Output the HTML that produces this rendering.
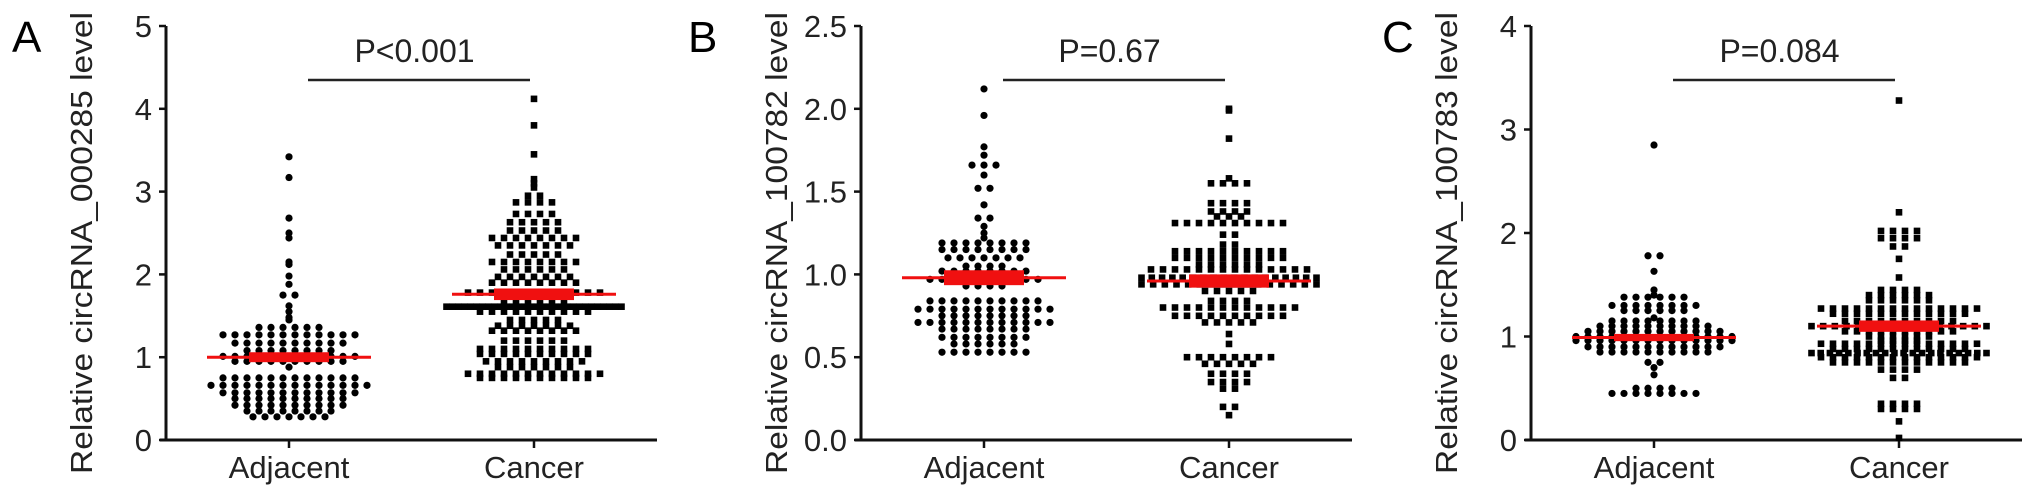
<!DOCTYPE html>
<html><head><meta charset="utf-8"><style>
html,body{margin:0;padding:0;background:#fff;}
svg{display:block;font-family:"Liberation Sans",Arial,sans-serif;}
</style></head><body>
<svg id="fig" width="2032" height="497" viewBox="0 0 2032 497"></svg>
<script>
const categories = ["Adjacent", "Cancer"];
const panelLetters = ["A", "B", "C"];
const yTitles = ["Relative circRNA_000285 level", "Relative circRNA_100782 level", "Relative circRNA_100783 level"];
const pLabels = ["P<0.001", "P=0.67", "P=0.084"];
const yTicksA = ["0","1","2","3","4","5"];
const yTicksB = ["0.0","0.5","1.0","1.5","2.0","2.5"];
const yTicksC = ["0","1","2","3","4"];
const yMax = [5, 2.5, 4];
const meansA = [1.0, 1.76]; const semA = [0.06, 0.07];
const meansB = [0.98, 0.96]; const semB = [0.045, 0.04];
const meansC = [0.99, 1.1]; const semC = [0.035, 0.055];

const adjA = [3.42,3.17,2.68,2.5,2.44,2.15,2.12,1.98,1.88,1.75,1.75,1.62,1.55,1.48,1.45,
1.36,1.36,1.36,1.36,1.36,1.36,
1.27,1.27,1.27,1.27,1.27,1.27,1.27,1.27,1.27,1.27,1.27,1.27,
1.17,1.17,1.17,1.17,1.17,1.17,1.17,1.17,1.17,1.17,
1.08,1.08,1.08,1.08,1.08,1.08,1.08,1.08,
1.01,1.01,1.01,1.01,1.01,1.01,1.01,1.01,1.01,1.01,1.01,1.01,
0.95,0.95,0.95,0.95,0.95,0.95,0.95,0.95,0.95,0.95,0.88,
0.75,0.75,0.75,0.75,0.75,0.75,0.75,0.75,0.75,0.75,0.75,0.75,
0.66,0.66,0.66,0.66,0.66,0.66,0.66,0.66,0.66,0.66,0.66,0.66,0.66,0.66,
0.57,0.57,0.57,0.57,0.57,0.57,0.57,0.57,0.57,0.57,0.57,0.57,
0.5,0.5,0.5,0.5,0.5,0.5,0.5,0.5,0.5,0.5,
0.42,0.42,0.42,0.42,0.42,0.42,0.42,0.42,0.42,0.42,
0.35,0.35,0.35,0.35,0.35,0.35,0.35,0.35,
0.28,0.28,0.28,0.28,0.28,0.28,0.28];
const canA = [4.12,3.8,3.45,3.15,3.1,3.05,2.95,2.95,2.87,2.87,2.87,2.87,2.73,2.73,2.73,2.73,
2.63,2.63,2.63,2.63,2.63,2.53,2.53,2.53,2.53,2.53,
2.44,2.44,2.44,2.44,2.44,2.44,2.44,2.44,2.35,2.35,2.35,2.35,2.35,2.35,2.35,
2.24,2.24,2.24,2.24,2.24,2.15,2.15,2.15,2.15,2.15,2.15,2.15,2.15,2.06,2.06,2.06,2.06,2.06,2.06,
1.97,1.97,1.97,1.97,1.97,1.97,1.97,1.9,1.9,1.9,1.9,1.9,1.9,1.9,1.9,
1.78,1.78,1.78,1.78,1.78,1.78,1.78,1.78,1.78,1.78,1.78,1.78,1.68,1.68,1.68,1.68,1.68,1.68,
1.61,1.61,1.61,1.61,1.61,1.61,1.61,1.61,1.61,1.61,1.61,1.61,1.61,1.61,1.61,1.61,1.61,1.61,1.61,1.61,1.61,1.61,1.61,1.61,1.61,1.61,1.61,1.61,1.61,1.61,
1.55,1.55,1.55,1.55,1.55,1.55,1.55,1.55,1.55,1.55,
1.45,1.45,1.45,1.45,1.45,1.38,1.38,1.38,1.38,1.38,1.38,1.38,1.32,1.32,1.32,1.32,1.32,1.32,1.32,1.32,
1.2,1.2,1.2,1.2,1.2,1.2,1.1,1.1,1.1,1.1,1.1,1.1,1.1,1.1,1.1,1.1,1.04,1.04,1.04,1.04,1.04,1.04,1.04,1.04,1.04,1.04,
0.95,0.95,0.95,0.95,0.95,0.95,0.95,0.95,0.95,0.88,0.88,0.88,0.88,0.88,0.88,0.88,
0.8,0.8,0.8,0.8,0.8,0.8,0.8,0.8,0.8,0.8,0.8,0.8,0.75,0.75,0.75,0.75,0.75,0.75,0.75,0.75,0.75,0.75];
const adjB = [2.12,1.96,1.77,1.72,1.66,1.66,1.66,1.6,1.52,1.52,1.42,1.34,1.34,1.29,1.25,1.22,
1.19,1.19,1.19,1.19,1.19,1.19,1.19,1.19,1.15,1.15,1.15,1.15,1.15,1.15,1.15,1.15,
1.1,1.1,1.1,1.1,1.1,1.1,1.1,1.05,1.05,1.05,1.05,1.02,1.02,1.02,1.02,1.02,1.02,1.02,1.02,
0.97,0.97,0.97,0.97,0.97,0.97,0.97,0.97,0.97,0.97,0.93,0.93,0.93,0.93,
0.84,0.84,0.84,0.84,0.84,0.84,0.84,0.84,0.84,0.84,0.79,0.79,0.79,0.79,0.79,0.79,0.79,0.79,0.79,0.79,0.79,0.79,
0.75,0.75,0.75,0.75,0.75,0.75,0.75,0.75,0.71,0.71,0.71,0.71,0.71,0.71,0.71,0.71,0.71,0.71,0.71,0.71,
0.67,0.67,0.67,0.67,0.67,0.67,0.67,0.67,0.62,0.62,0.62,0.62,0.62,0.62,0.62,0.62,
0.58,0.58,0.58,0.58,0.58,0.58,0.53,0.53,0.53,0.53,0.53,0.53,0.53,0.53];
const canB = [2.0,1.99,1.82,1.58,1.55,1.55,1.55,1.55,1.43,1.43,1.43,1.43,1.38,1.38,1.38,1.38,1.35,1.35,1.35,
1.31,1.31,1.31,1.31,1.31,1.31,1.31,1.31,1.31,1.31,1.24,1.24,1.18,1.18,
1.14,1.14,1.14,1.14,1.14,1.14,1.14,1.14,1.14,1.14,1.1,1.1,1.1,1.1,1.1,1.1,1.1,1.1,1.1,1.1,
1.06,1.06,1.06,1.06,1.06,1.06,1.03,1.03,1.03,1.03,1.03,1.03,1.03,1.03,1.03,1.03,1.03,1.03,1.03,1.03,
0.98,0.98,0.98,0.98,0.98,0.98,0.98,0.98,0.98,0.98,0.98,0.98,0.98,0.98,0.98,0.98,0.98,0.98,
0.94,0.94,0.94,0.94,0.94,0.94,0.94,0.94,0.94,0.94,0.94,0.94,0.94,0.94,0.94,0.94,
0.9,0.9,0.9,0.9,0.9,0.84,0.84,0.84,0.84,
0.8,0.8,0.8,0.8,0.8,0.8,0.8,0.8,0.8,0.8,0.8,0.8,0.75,0.75,0.75,0.75,0.75,0.75,0.75,0.75,0.75,0.75,
0.71,0.71,0.71,0.71,0.71,0.64,0.58,0.5,0.5,0.5,0.5,0.5,0.5,0.5,0.5,0.46,0.46,0.46,0.46,0.46,
0.4,0.4,0.4,0.4,0.35,0.35,0.35,0.35,0.31,0.31,0.2,0.2,0.15];
const adjC = [2.85,1.78,1.78,1.63,1.45,1.4,1.38,1.38,1.38,1.38,1.38,1.38,
1.3,1.3,1.3,1.3,1.3,1.3,1.3,1.3,1.25,1.25,1.25,1.25,1.25,1.25,1.18,
1.15,1.15,1.15,1.15,1.15,1.15,1.15,1.15,1.1,1.1,1.1,1.1,1.1,1.1,1.1,1.1,1.1,1.1,
1.05,1.05,1.05,1.05,1.05,1.05,1.05,1.05,1.05,1.05,1.05,1.05,
1.0,1.0,1.0,1.0,1.0,1.0,1.0,1.0,1.0,1.0,1.0,1.0,1.0,1.0,
0.96,0.96,0.96,0.96,0.96,0.96,0.96,0.96,0.96,0.96,0.96,0.96,0.96,0.96,
0.9,0.9,0.9,0.9,0.9,0.9,0.9,0.9,0.9,0.9,0.9,0.9,0.85,0.85,0.85,0.85,0.85,0.85,0.85,0.85,0.85,0.85,
0.75,0.75,0.7,0.63,0.5,0.5,0.5,0.5,0.45,0.45,0.45,0.45,0.45,0.45,0.45,0.45];
const canC = [3.28,2.2,2.02,2.02,2.02,2.02,1.95,1.95,1.95,1.95,1.87,1.87,1.75,1.57,
1.45,1.45,1.45,1.45,1.4,1.4,1.4,1.4,1.4,1.4,1.35,1.35,1.35,1.35,1.35,1.35,
1.27,1.27,1.27,1.27,1.27,1.27,1.27,1.27,1.27,1.27,1.27,1.27,1.27,1.27,
1.22,1.22,1.22,1.22,1.22,1.22,1.22,1.22,1.22,1.22,1.22,1.22,
1.15,1.15,1.15,1.15,1.15,1.15,1.15,1.15,1.15,1.15,
1.1,1.1,1.1,1.1,1.1,1.1,1.1,1.1,1.1,1.1,1.1,1.1,1.1,1.1,1.1,1.1,
1.05,1.05,1.05,1.05,1.05,1.05,1.05,1.05,1.05,1.05,1.0,1.0,1.0,1.0,1.0,1.0,0.96,0.96,0.96,0.96,
0.93,0.93,0.93,0.93,0.93,0.93,0.93,0.93,0.93,0.93,0.93,0.93,0.93,0.93,
0.88,0.88,0.88,0.88,0.88,0.88,0.88,0.88,0.88,0.88,0.88,0.88,
0.84,0.84,0.84,0.84,0.84,0.84,0.84,0.84,0.84,0.84,0.84,0.84,0.84,0.84,0.84,0.84,0.84,0.84,0.84,0.84,
0.8,0.8,0.8,0.8,0.8,0.8,0.8,0.8,0.8,0.8,0.8,0.8,0.8,0.8,
0.75,0.75,0.75,0.75,0.75,0.75,0.75,0.75,0.75,0.75,0.75,0.75,
0.68,0.68,0.68,0.68,0.6,0.6,0.35,0.35,0.35,0.35,0.3,0.3,0.3,0.3,0.18,0.02];

const NS = "http://www.w3.org/2000/svg";
const svg = document.getElementById("fig");
function mk(tag, attrs, parent, text){
  const e = document.createElementNS(NS, tag);
  for (const k in attrs) e.setAttribute(k, attrs[k]);
  if (text !== undefined) e.textContent = text;
  (parent || svg).appendChild(e);
  return e;
}
const panels = [
  {x0:166, ticks:yTicksA, groups:[adjA, canA], means:meansA, sems:semA, letterX:12},
  {x0:861, ticks:yTicksB, groups:[adjB, canB], means:meansB, sems:semB, letterX:688},
  {x0:1531, ticks:yTicksC, groups:[adjC, canC], means:meansC, sems:semC, letterX:1382}
];
const yTop = 26, yBot = 440;
panels.forEach((p, pi) => {
  const g = mk("g", {});
  
  
  const yScale = v => yBot - (v / yMax[pi]) * (yBot - yTop);
  const xCat = i => p.x0 + 123 + i * 245;
  const letter = mk("text", {x:p.letterX, y:52, "font-size":44}, g, panelLetters[pi]);
  
  
  const yt = mk("text", {transform:`translate(${p.x0-74},${(yBot+yTop)/2+10}) rotate(-90)`, "text-anchor":"middle", "font-size":31, fill:"#222", textLength:462, lengthAdjust:"spacingAndGlyphs"}, g, yTitles[pi]);
  
  
  const yAxis = mk("line", {x1:p.x0, y1:yTop, x2:p.x0, y2:yBot+1, stroke:"#111", "stroke-width":3}, g);
  
  
  const xAxis = mk("line", {x1:p.x0-6, y1:yBot, x2:p.x0+491, y2:yBot, stroke:"#111", "stroke-width":3}, g);
  
  
  const n = p.ticks.length;
  p.ticks.forEach((t, ti) => {
    const v = ti * yMax[pi] / (n - 1);
    const y = yScale(v);
    mk("line", {x1:p.x0-7, y1:y, x2:p.x0, y2:y, stroke:"#111", "stroke-width":2.5}, g);
    const tl = mk("text", {x:p.x0-14, y:y+11, "text-anchor":"end", "font-size":31, fill:"#222"}, g, t);
    
    
  });
  categories.forEach((c, ci) => {
    const x = xCat(ci);
    mk("line", {x1:x, y1:yBot, x2:x, y2:yBot+8, stroke:"#111", "stroke-width":2.5}, g);
    const xl = mk("text", {x:x, y:478, "text-anchor":"middle", "font-size":31, fill:"#222"}, g, c);
    
    
  });
  const sb = mk("line", {x1:xCat(0)+19, y1:80, x2:xCat(1)-4, y2:80, stroke:"#222", "stroke-width":2.5}, g);
  
  
  const pt = mk("text", {x:(xCat(0)+xCat(1))/2+3, y:62, "text-anchor":"middle", "font-size":32, fill:"#222"}, g, pLabels[pi]);
  
  
  p.groups.forEach((vals, gi) => {
    const cx = xCat(gi);
    const rows = {};
    vals.forEach(v => { (rows[v] = rows[v] || []).push(v); });
    Object.keys(rows).forEach(k => {
      const arr = rows[k];
      const m = arr.length;
      const sp = Math.min(12, m > 1 ? 175 / (m - 1) : 12);
      arr.forEach((v, j) => {
        const x = cx + (j - (m - 1) / 2) * sp;
        const y = yScale(v);
        let d;
        if (gi === 0) d = mk("circle", {cx:x, cy:y, r:3.6, fill:"#000"}, g);
        else d = mk("rect", {x:x-3.3, y:y-3.3, width:6.6, height:6.6, fill:"#000"}, g);
        
        
      });
    });
    const ym = yScale(p.means[gi]);
    const y1 = yScale(p.means[gi] + p.sems[gi]), y2 = yScale(p.means[gi] - p.sems[gi]);
    const box = mk("rect", {x:cx-40, y:y1, width:80, height:y2-y1, fill:"#f01010"}, g);
    
    
    const ml = mk("line", {x1:cx-82, y1:ym, x2:cx+82, y2:ym, stroke:"#f01010", "stroke-width":3}, g);
    
    
  });
});
</script>
</body></html>
